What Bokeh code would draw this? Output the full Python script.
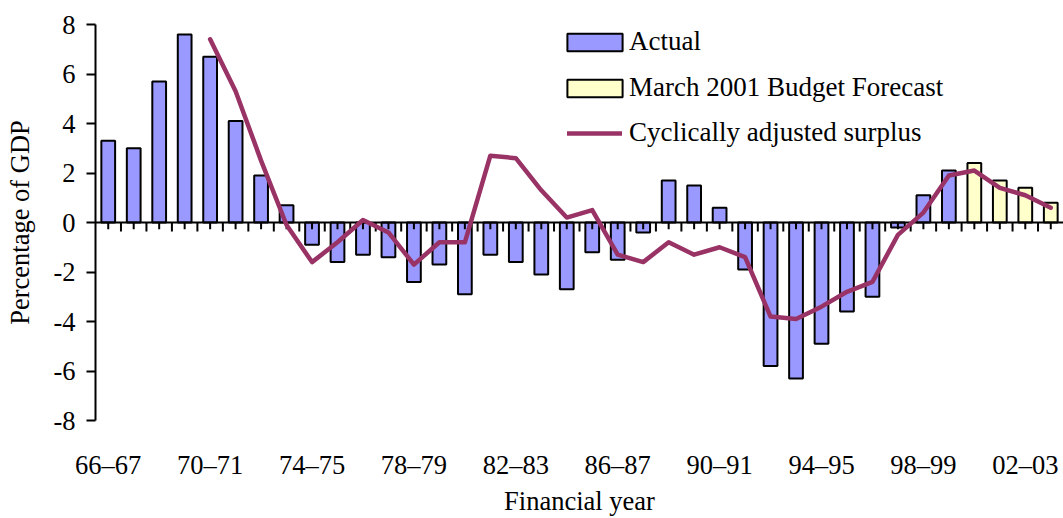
from bokeh.plotting import figure
from bokeh.models import FixedTicker, Legend, LegendItem, Range1d
from bokeh.embed import file_html
from bokeh.resources import INLINE

years = ["66–67", "67–68", "68–69", "69–70", "70–71", "71–72", "72–73", "73–74",
         "74–75", "75–76", "76–77", "77–78", "78–79", "79–80", "80–81", "81–82",
         "82–83", "83–84", "84–85", "85–86", "86–87", "87–88", "88–89", "89–90",
         "90–91", "91–92", "92–93", "93–94", "94–95", "95–96", "96–97", "97–98",
         "98–99", "99–00", "00–01", "01–02", "02–03", "03–04"]

actual = [3.3, 3.0, 5.7, 7.6, 6.7, 4.1, 1.9, 0.7, -0.9, -1.6, -1.3, -1.4, -2.4, -1.7,
          -2.9, -1.3, -1.6, -2.1, -2.7, -1.2, -1.5, -0.4, 1.7, 1.5, 0.6, -1.9, -5.8,
          -6.3, -4.9, -3.6, -3.0, -0.2, 1.1, 2.1]

forecast = [2.4, 1.7, 1.4, 0.8]

cyclical = [7.4, 5.3, 2.5, -0.1, -1.6, -0.8, 0.1, -0.4, -1.7, -0.8, -0.8, 2.7, 2.6,
            1.3, 0.2, 0.5, -1.3, -1.6, -0.8, -1.3, -1.0, -1.4, -3.8, -3.9, -3.4, -2.8,
            -2.4, -0.5, 0.4, 1.9, 2.1, 1.4, 1.1, 0.6]

y_ticks = [-8, -6, -4, -2, 0, 2, 4, 6, 8]

FONT = "Liberation Serif"
FS = "26.5px"
FS_LEG = "27px"

n = len(years)
x_actual = list(range(len(actual)))
x_fore = list(range(len(actual), len(actual) + len(forecast)))
x_cyc = list(range(n - len(cyclical), n))

p = figure(width=1063, height=518, output_backend="svg", toolbar_location=None,
           x_range=Range1d(-0.5, n - 0.5), y_range=Range1d(-8, 8),
           min_border_left=95, min_border_right=0, min_border_top=24,
           min_border_bottom=98)
p.grid.visible = False
p.outline_line_color = None
p.background_fill_color = "white"
p.border_fill_color = "white"

# bars
r_act = p.vbar(x=x_actual, top=actual, bottom=0, width=0.54,
               fill_color="#9999FF", line_color="black", line_width=2)
r_fore = p.vbar(x=x_fore, top=forecast, bottom=0, width=0.54,
                fill_color="#FFFFCC", line_color="black", line_width=2)

# zero line with category ticks
p.segment(x0=[-0.5], y0=[0], x1=[n - 0.5], y1=[0], line_color="black", line_width=2)
bounds = [i + 0.5 for i in range(n - 1)]
p.segment(x0=bounds, y0=[0] * len(bounds), x1=bounds, y1=[-0.36] * len(bounds),
          line_color="black", line_width=2)
centers = list(range(n))
p.segment(x0=centers, y0=[0] * n, x1=centers, y1=[-0.27] * n,
          line_color="black", line_width=2)

# cyclically adjusted line
r_line = p.line(x=x_cyc, y=cyclical, line_color="#993366", line_width=4.5,
                line_join="round", line_cap="round")

# y axis
ya = p.yaxis[0]
ya.ticker = FixedTicker(ticks=y_ticks)
ya.major_label_overrides = {t: str(t) for t in y_ticks}
ya.minor_tick_line_color = None
ya.major_tick_in = 0
ya.major_tick_out = 9
ya.major_tick_line_width = 2
ya.axis_line_width = 2
ya.major_label_standoff = 11
ya.major_label_text_font = FONT
ya.major_label_text_font_size = FS
ya.major_label_text_color = "black"
ya.axis_label = "Percentage of GDP"
ya.axis_label_text_font = FONT
ya.axis_label_text_font_size = FS
ya.axis_label_text_font_style = "normal"
ya.axis_label_text_color = "black"
ya.axis_label_standoff = 15

# x axis (labels only, on the bottom edge)
xa = p.xaxis[0]
xa.ticker = FixedTicker(ticks=list(range(0, n, 4)))
xa.major_label_overrides = {i: years[i] for i in range(0, n, 4)}
xa.axis_line_color = None
xa.major_tick_line_color = None
xa.minor_tick_line_color = None
xa.major_tick_in = 0
xa.major_tick_out = 0
xa.major_label_standoff = 29
xa.major_label_text_font = FONT
xa.major_label_text_font_size = FS
xa.major_label_text_color = "black"
xa.axis_label = "Financial year"
xa.axis_label_text_font = FONT
xa.axis_label_text_font_size = FS
xa.axis_label_text_font_style = "normal"
xa.axis_label_text_color = "black"
xa.axis_label_standoff = 3

legend_common = dict(orientation="vertical", border_line_color=None,
                     background_fill_alpha=0, padding=0, margin=0, spacing=15,
                     label_height=30, label_text_font=FONT,
                     label_text_font_size=FS_LEG, label_text_color="black")

legend_bars = Legend(items=[LegendItem(label="Actual", renderers=[r_act]),
                            LegendItem(label="March 2001 Budget Forecast",
                                       renderers=[r_fore])],
                     location=(465, 317), glyph_height=22, glyph_width=69,
                     label_standoff=0, **legend_common)
legend_line = Legend(items=[LegendItem(label="Cyclically adjusted surplus",
                                       renderers=[r_line])],
                     location=(472, 272), glyph_height=18, glyph_width=55,
                     label_standoff=7, **legend_common)
p.add_layout(legend_bars)
p.add_layout(legend_line)

open("out.html", "w").write(file_html(p, INLINE))
